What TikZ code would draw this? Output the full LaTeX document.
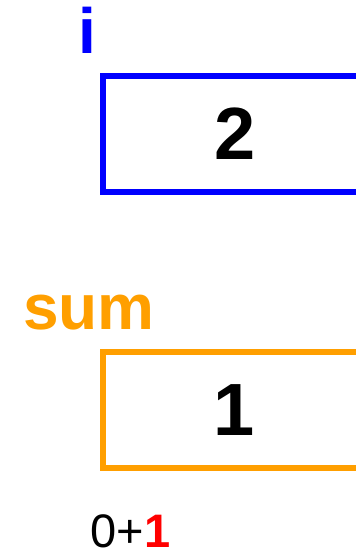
\documentclass[tikz,border=0pt]{standalone}
\usepackage{fontspec}
\setmainfont{Liberation Sans}
\definecolor{varblue}{RGB}{0,0,255}
\definecolor{varorange}{RGB}{255,159,0}
\definecolor{hired}{RGB}{255,0,0}
\tikzset{
  varbox/.style={draw, line width=6pt, minimum width=265pt, minimum height=116pt, inner sep=0pt, font=\bfseries\fontsize{74}{74}\selectfont},
  varlabel/.style={anchor=base west, inner sep=0pt, font=\bfseries\fontsize{64}{64}\selectfont},
  calc/.style={anchor=base west, inner sep=0pt, font=\fontsize{47}{47}\selectfont}
}
\begin{document}
\begin{tikzpicture}[x=1pt,y=-1pt]
\useasboundingbox (0,0) rectangle (356,552);
\clip (0,0) rectangle (356,552);
\node[varlabel, text=varblue] (ilabel) at (78.4,53) {i};
\node[varbox, draw=varblue] (ibox) at (235.5,133.5) {2};
\node[varlabel, text=varorange] (sumlabel) at (23,329.5) {sum};
\node[varbox, draw=varorange] (sumbox) at (235.5,409.8) {\hspace*{-3pt}1};
\node[calc] (calc) at (90.3,547) {0+\textcolor{hired}{\bfseries 1}};
\end{tikzpicture}
\end{document}
